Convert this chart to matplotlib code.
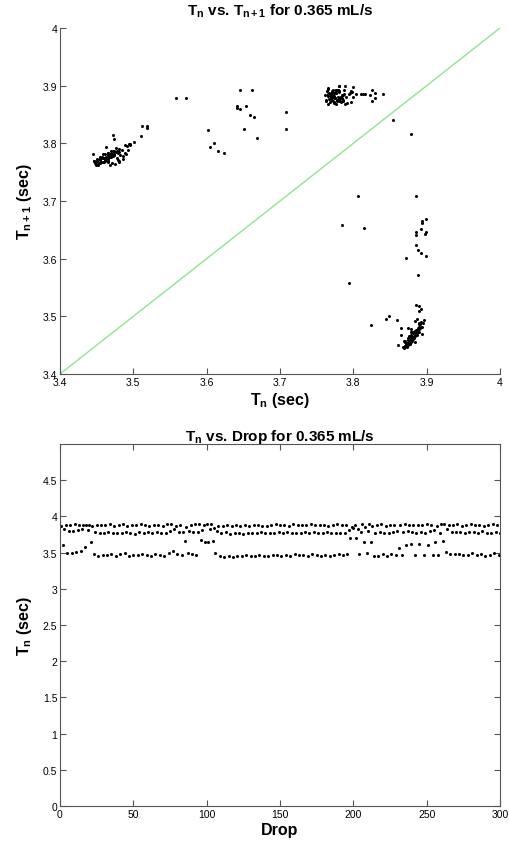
import numpy as np
import matplotlib
matplotlib.use("Agg")
import matplotlib.pyplot as plt

plt.rcParams['font.family'] = ['Liberation Sans', 'DejaVu Sans']
plt.rcParams['mathtext.fontset'] = 'custom'
plt.rcParams['mathtext.rm'] = 'Liberation Sans'
plt.rcParams['mathtext.bf'] = 'Liberation Sans:bold'
plt.rcParams['mathtext.it'] = 'Liberation Sans:italic'

# ---- drop periods T_n (sec), in 30-drop segments ----
seg_a = [3.872, 3.602, 3.823, 3.884, 3.492, 3.796, 3.887, 3.495, 3.798, 3.889,
         3.510, 3.813, 3.886, 3.519, 3.830, 3.888, 3.572, 3.879, 3.816, 3.886,
         3.641, 3.865, 3.480, 3.785, 3.884, 3.455, 3.772, 3.882, 3.462, 3.775]
seg_b = [3.879, 3.462, 3.781, 3.891, 3.486, 3.772, 3.873, 3.451, 3.770, 3.884,
         3.475, 3.765, 3.896, 3.493, 3.789, 3.869, 3.457, 3.776, 3.887, 3.468,
         3.763, 3.876, 3.466, 3.779, 3.892, 3.481, 3.769, 3.881, 3.472, 3.786]
seg_c = [3.874, 3.459, 3.767, 3.888, 3.479, 3.783, 3.880, 3.463, 3.774, 3.871,
         3.455, 3.771, 3.890, 3.488, 3.797, 3.890, 3.518, 3.826, 3.874, 3.480,
         3.790, 3.880, 3.465, 3.784, 3.659, 3.849, 3.501, 3.803, 3.886, 3.474]
seg_d = [3.779, 3.893, 3.470, 3.781, 3.899, 3.668, 3.810, 3.885, 3.646, 3.892,
         3.651, 3.825, 3.893, 3.665, 3.845, 3.495, 3.797, 3.872, 3.448, 3.766,
         3.869, 3.445, 3.781, 3.877, 3.452, 3.763, 3.873, 3.446, 3.769, 3.880]
seg_e = [3.458, 3.774, 3.871, 3.449, 3.762, 3.883, 3.463, 3.777, 3.868, 3.447,
         3.770, 3.878, 3.455, 3.766, 3.886, 3.468, 3.781, 3.874, 3.451, 3.773,
         3.870, 3.449, 3.765, 3.882, 3.461, 3.771, 3.889, 3.472, 3.778, 3.876]
seg_f = [3.456, 3.768, 3.884, 3.466, 3.783, 3.872, 3.452, 3.764, 3.890, 3.478,
         3.775, 3.879, 3.461, 3.769, 3.885, 3.470, 3.786, 3.875, 3.454, 3.772,
         3.893, 3.482, 3.779, 3.881, 3.465, 3.767, 3.877, 3.458, 3.774, 3.887]
seg_g = [3.471, 3.782, 3.873, 3.453, 3.766, 3.884, 3.467, 3.777, 3.891, 3.479,
         3.771, 3.878, 3.460, 3.768, 3.886, 3.474, 3.807, 3.708, 3.854, 3.840,
         3.886, 3.708, 3.824, 3.485, 3.788, 3.899, 3.646, 3.860, 3.494, 3.799]
seg_h = [3.898, 3.642, 3.861, 3.451, 3.770, 3.876, 3.458, 3.781, 3.890, 3.481,
         3.768, 3.871, 3.455, 3.776, 3.887, 3.476, 3.785, 3.879, 3.463, 3.794,
         3.558, 3.879, 3.473, 3.780, 3.899, 3.605, 3.794, 3.885, 3.623, 3.783]
seg_i = [3.880, 3.466, 3.773, 3.888, 3.615, 3.787, 3.885, 3.470, 3.777, 3.892,
         3.610, 3.800, 3.881, 3.472, 3.814, 3.653, 3.865, 3.468, 3.776, 3.893,
         3.662, 3.892, 3.512, 3.830, 3.878, 3.478, 3.786, 3.884, 3.474, 3.781]
seg_j = [3.889, 3.486, 3.778, 3.874, 3.462, 3.771, 3.884, 3.473, 3.787, 3.892,
         3.490, 3.781, 3.877, 3.466, 3.769, 3.886, 3.477, 3.792, 3.870, 3.458,
         3.774, 3.882, 3.471, 3.766, 3.895, 3.489, 3.783, 3.879, 3.467, 3.777]

periods = np.array(seg_a + seg_b + seg_c + seg_d + seg_e + seg_f + seg_g +
                   seg_h + seg_i + seg_j)
drops = np.arange(1, len(periods) + 1)

title_top = r"T$_{\mathbf{n}}$ vs. T$_{\mathbf{n+1}}$ for 0.365 mL/s"
title_bot = r"T$_{\mathbf{n}}$ vs. Drop for 0.365 mL/s"
top_ticks = [3.4, 3.5, 3.6, 3.7, 3.8, 3.9, 4.0]
top_labels = ["3.4", "3.5", "3.6", "3.7", "3.8", "3.9", "4"]
bot_xticks = [0, 50, 100, 150, 200, 250, 300]
bot_yticks = [0, 0.5, 1, 1.5, 2, 2.5, 3, 3.5, 4, 4.5]
bot_ylabels = ["0", "0.5", "1", "1.5", "2", "2.5", "3", "3.5", "4", "4.5"]

W, H = 510, 845
fig = plt.figure(figsize=(W / 100, H / 100), dpi=100)
fig.patch.set_facecolor('white')

def px_axes(l, r, t, b):
    return fig.add_axes([l / W, 1 - b / H, (r - l) / W, (b - t) / H])

axis_col = '#555555'
tick_fs = 7.5
lab_fs = 11.5
ttl_fs = 11

# ---------- top panel ----------
ax1 = px_axes(60, 500, 29, 375)
ax1.plot([3.4, 4.0], [3.4, 4.0], color='#8fe58f', lw=1.0, zorder=1)
ax1.plot(periods[:-1], periods[1:], 'o', color='black', ms=2.2, mew=0, zorder=2)
ax1.set_xlim(3.4, 4.0)
ax1.set_ylim(3.4, 4.0)
ax1.set_xticks(top_ticks)
ax1.set_xticklabels(top_labels)
ax1.set_yticks(top_ticks)
ax1.set_yticklabels(top_labels)
for s in ['top', 'right']:
    ax1.spines[s].set_visible(False)
for s in ['left', 'bottom']:
    ax1.spines[s].set_color(axis_col)
ax1.tick_params(direction='in', length=4, width=0.8, color=axis_col,
                labelsize=tick_fs, pad=2)
ax1.set_title(title_top, fontsize=ttl_fs, fontweight='bold', pad=10)
ax1.set_xlabel(r"T$_{\mathbf{n}}$ (sec)", fontsize=lab_fs, fontweight='bold', labelpad=2)
ax1.set_ylabel(r"T$_{\mathbf{n+1}}$ (sec)", fontsize=lab_fs, fontweight='bold', labelpad=6)

# ---------- bottom panel ----------
ax2 = px_axes(60, 500, 445, 807)
ax2.plot(drops, periods, 'o', color='black', ms=2.2, mew=0)
ax2.set_xlim(0, 300)
ax2.set_ylim(0, 5)
ax2.set_xticks(bot_xticks)
ax2.set_yticks(bot_yticks)
ax2.set_yticklabels(bot_ylabels)
for s in ax2.spines.values():
    s.set_color(axis_col)
ax2.tick_params(direction='in', length=4, width=0.8, color=axis_col,
                labelsize=tick_fs, pad=2, top=True, right=True)
ax2.set_title(title_bot, fontsize=ttl_fs, fontweight='bold', pad=3)
ax2.set_xlabel("Drop", fontsize=lab_fs, fontweight='bold', labelpad=2)
ax2.set_ylabel(r"T$_{\mathbf{n}}$ (sec)", fontsize=lab_fs, fontweight='bold', labelpad=6)

fig.savefig("out.png", dpi=100, facecolor='white')
